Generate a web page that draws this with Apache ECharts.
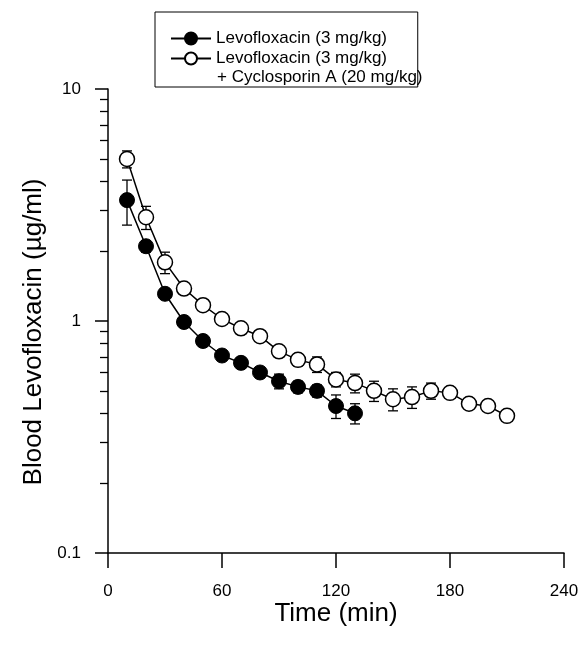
<!DOCTYPE html>
<html>
<head>
<meta charset="utf-8">
<title>Blood Levofloxacin</title>
<script src="https://cdn.jsdelivr.net/npm/echarts@6/dist/echarts.min.js"></script>
<style>
  html, body { margin: 0; padding: 0; background: #fff; }
  #chart { width: 584px; height: 652px; }
</style>
</head>
<body>
<div id="chart"></div>
<script>
// time points (min)
const timeLevo = [10, 20, 30, 40, 50, 60, 70, 80, 90, 100, 110, 120, 130];
const timeCombo = [10, 20, 30, 40, 50, 60, 70, 80, 90, 100, 110, 120, 130, 140, 150, 160, 170, 180, 190, 200, 210];

// mean blood levels (ug/ml) and SD
const meanLevo = [3.32, 2.10, 1.31, 0.99, 0.82, 0.71, 0.66, 0.60, 0.55, 0.52, 0.50, 0.43, 0.40];
const sdLevo = [0.73, 0.12, 0.07, 0.04, 0.04, 0.03, 0.03, 0.03, 0.04, 0.03, 0.03, 0.05, 0.04];
const meanCombo = [4.99, 2.80, 1.79, 1.38, 1.17, 1.02, 0.93, 0.86, 0.74, 0.68, 0.65, 0.56, 0.54, 0.50, 0.46, 0.47, 0.50, 0.49, 0.44, 0.43, 0.39];
const sdCombo = [0.42, 0.32, 0.19, 0.05, 0.05, 0.04, 0.03, 0.03, 0.04, 0.04, 0.05, 0.04, 0.05, 0.05, 0.05, 0.05, 0.04, 0.02, 0.02, 0.02, 0.02];

const xTicks = [0, 60, 120, 180, 240];
const yMajorTicks = [0.1, 1, 10];
const yMinorTicks = [0.2, 0.3, 0.4, 0.5, 0.6, 0.7, 0.8, 0.9, 2, 3, 4, 5, 6, 7, 8, 9];

const nameLevo = 'Levofloxacin (3 mg/kg)';
const nameCombo = 'Levofloxacin (3 mg/kg) ';
const comboExtra = '+ Cyclosporin A (20 mg/kg)';

const font = 'Liberation Sans, Arial, sans-serif';

function pairs(xs, ys) {
  return xs.map((x, i) => [x, ys[i]]);
}
function errData(xs, ys, sd) {
  return xs.map((x, i) => [x, ys[i] - sd[i], ys[i] + sd[i]]);
}

function renderErr(params, api) {
  const x = api.value(0);
  const lo = api.coord([x, api.value(1)]);
  const hi = api.coord([x, api.value(2)]);
  const cap = 5;
  const style = { stroke: '#000', lineWidth: 1.3 };
  return {
    type: 'group',
    children: [
      { type: 'line', shape: { x1: lo[0], y1: lo[1], x2: hi[0], y2: hi[1] }, style: style },
      { type: 'line', shape: { x1: lo[0] - cap, y1: lo[1], x2: lo[0] + cap, y2: lo[1] }, style: style },
      { type: 'line', shape: { x1: hi[0] - cap, y1: hi[1], x2: hi[0] + cap, y2: hi[1] }, style: style }
    ]
  };
}

const chart = echarts.init(document.getElementById('chart'));

chart.setOption({
  backgroundColor: '#fff',
  animation: false,
  textStyle: { fontFamily: font, color: '#000' },
  grid: { left: 108, right: 20, top: 89, bottom: 99 },
  legend: {
    left: 155,
    top: 12,
    orient: 'vertical',
    data: [nameLevo, nameCombo],
    itemWidth: 40,
    itemHeight: 15,
    itemGap: 3,
    padding: [18, 26, 20, 15],
    borderColor: '#000',
    borderWidth: 1,
    selectedMode: false,
    textStyle: { fontSize: 17, color: '#000', fontFamily: font }
  },
  graphic: [
    {
      type: 'text',
      left: 217,
      top: 69,
      style: { text: comboExtra, fontSize: 17, fill: '#000', fontFamily: font }
    }
  ],
  xAxis: {
    type: 'value',
    min: 0,
    max: 240,
    interval: 60,
    name: 'Time (min)',
    nameLocation: 'middle',
    nameGap: 48,
    nameMoveOverlap: false,
    nameTextStyle: { fontSize: 26, color: '#000' },
    axisLine: { lineStyle: { color: '#000', width: 1.5 } },
    axisTick: { length: 15, lineStyle: { color: '#000', width: 1.5 }, customValues: xTicks },
    axisLabel: { fontSize: 17, color: '#000', margin: 30, customValues: xTicks },
    splitLine: { show: false }
  },
  yAxis: [
    {
      type: 'log',
      logBase: 10,
      min: 0.1,
      max: 10,
      name: 'Blood Levofloxacin (\u00b5g/ml)',
      nameLocation: 'middle',
      nameGap: 52,
      nameTextStyle: { fontSize: 26, color: '#000', padding: [0, 22, 0, 0] },
      axisLine: { show: true, lineStyle: { color: '#000', width: 1.5 } },
      axisTick: { length: 13, lineStyle: { color: '#000', width: 1.5 }, customValues: yMajorTicks },
      axisLabel: { fontSize: 17, color: '#000', margin: 27, customValues: yMajorTicks },
      splitLine: { show: false }
    },
    {
      type: 'log',
      logBase: 10,
      min: 0.1,
      max: 10,
      position: 'left',
      axisLine: { show: false },
      axisTick: { show: true, length: 8, lineStyle: { color: '#000', width: 1.3 }, customValues: yMinorTicks },
      axisLabel: { show: false },
      splitLine: { show: false }
    }
  ],
  series: [
    {
      type: 'custom',
      renderItem: renderErr,
      data: errData(timeLevo, meanLevo, sdLevo),
      encode: { x: 0, y: [1, 2] },
      z: 1,
      silent: true
    },
    {
      type: 'custom',
      renderItem: renderErr,
      data: errData(timeCombo, meanCombo, sdCombo),
      encode: { x: 0, y: [1, 2] },
      z: 1,
      silent: true
    },
    {
      name: nameCombo,
      type: 'line',
      data: pairs(timeCombo, meanCombo),
      symbol: 'circle',
      symbolSize: 15,
      lineStyle: { color: '#000', width: 1.5 },
      itemStyle: { color: '#fff', borderColor: '#000', borderWidth: 1.5 },
      z: 3
    },
    {
      name: nameLevo,
      type: 'line',
      data: pairs(timeLevo, meanLevo),
      symbol: 'circle',
      symbolSize: 15,
      lineStyle: { color: '#000', width: 1.5 },
      itemStyle: { color: '#000', borderColor: '#000', borderWidth: 1 },
      z: 4
    }
  ]
});
</script>
</body>
</html>
